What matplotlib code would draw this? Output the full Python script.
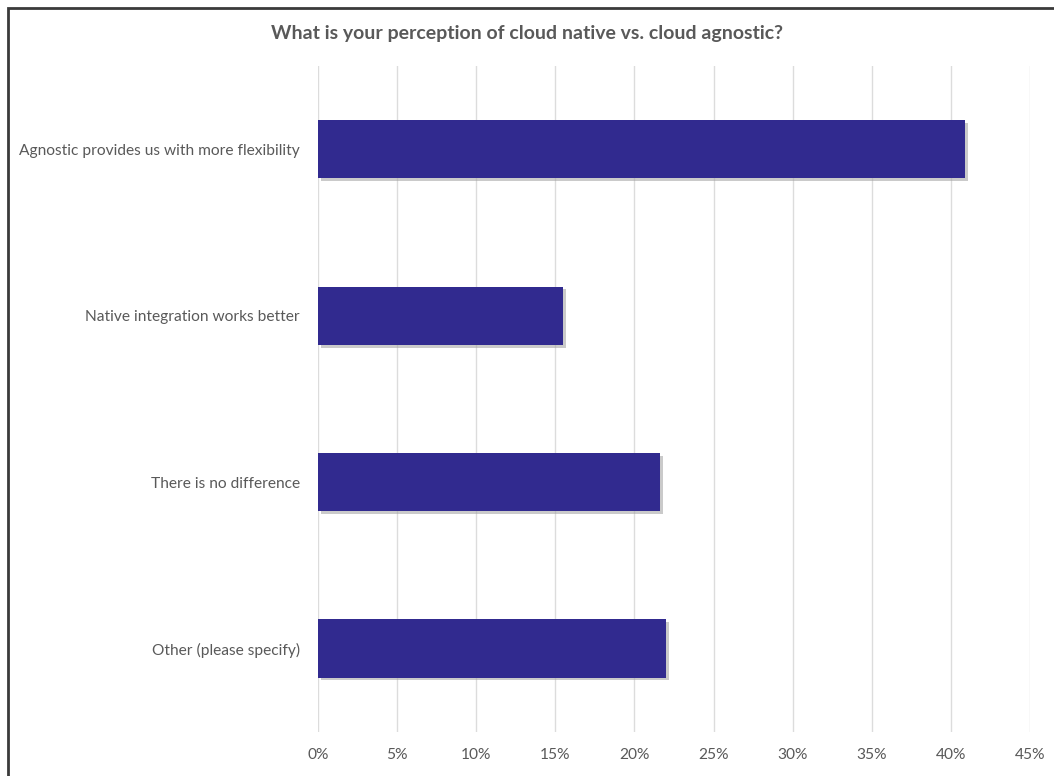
import matplotlib.pyplot as plt
from matplotlib.patches import Rectangle
import matplotlib.patheffects as pe
from matplotlib.ticker import FuncFormatter

categories = [
    "Agnostic provides us with more flexibility",
    "Native integration works better",
    "There is no difference",
    "Other (please specify)",
]
shares = [40.9, 15.5, 21.6, 22.0]
ticks = [0, 5, 10, 15, 20, 25, 30, 35, 40, 45]

plt.rcParams['font.family'] = ['Lato', 'DejaVu Sans']
text_grey = '#595959'

fig = plt.figure(figsize=(10.54, 7.76), dpi=100)
ax = fig.add_axes([0.3017, 0.057, 0.6755, 0.858])

y = list(range(len(categories)))
bars = ax.barh(y, shares, height=0.35, color='#312A8F', zorder=3)
for b in bars:
    b.set_path_effects([pe.SimplePatchShadow(offset=(2, -2), shadow_rgbFace='#a0a0a0', alpha=0.55),
                        pe.Normal()])

ax.set_ylim(len(categories) - 0.5, -0.5)
ax.set_xlim(0, 45)
ax.set_yticks(y)
ax.set_yticklabels(categories, fontsize=11.2, color=text_grey)
ax.set_xticks(ticks)
ax.xaxis.set_major_formatter(FuncFormatter(lambda v, _: f"{v:.0f}%"))
ax.tick_params(axis='x', labelsize=11.2, labelcolor=text_grey, length=0, pad=12)
ax.tick_params(axis='y', length=0, pad=13)
ax.grid(axis='x', color='#dcdcdc', linewidth=1.0, zorder=0)
for s in ax.spines.values():
    s.set_visible(False)

fig.text(0.5, 0.957, "What is your perception of cloud native vs. cloud agnostic?",
         ha='center', va='center', fontsize=14, fontweight='bold', color=text_grey)

# outer frame (top and left edges visible)
fig.patches.append(Rectangle((8 / 1054, -0.1), 1.2, 1.1 - 8 / 776, transform=fig.transFigure,
                             fill=False, edgecolor='#3a3a3a', linewidth=2))

fig.savefig('out.png', dpi=100, facecolor='white')
